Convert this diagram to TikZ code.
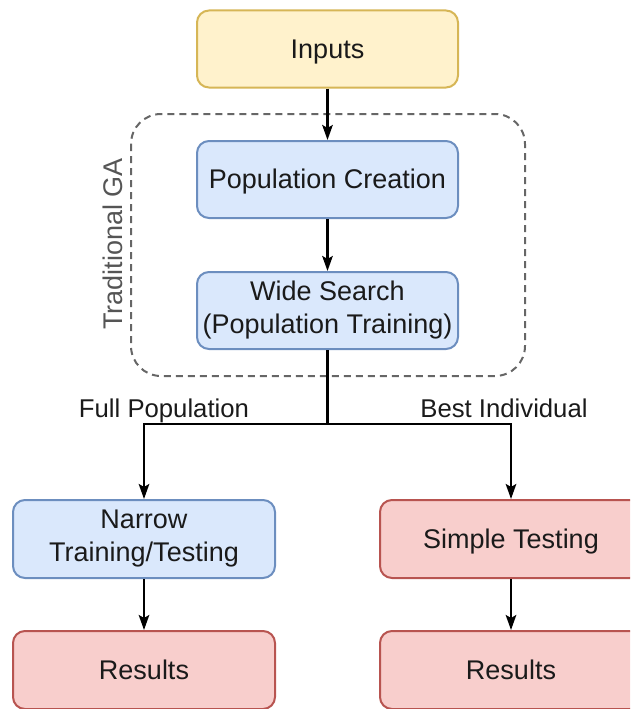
\documentclass[tikz,border=0pt]{standalone}
\usepackage{fontspec}
\setmainfont{Liberation Sans}
\usetikzlibrary{arrows.meta}

\definecolor{yelfill}{HTML}{FFF2CC}
\definecolor{yeldraw}{HTML}{D6B656}
\definecolor{bluefill}{HTML}{DAE8FC}
\definecolor{bluedraw}{HTML}{6C8EBF}
\definecolor{redfill}{HTML}{F8CECC}
\definecolor{reddraw}{HTML}{B85450}
\definecolor{groupgrey}{HTML}{666666}
\definecolor{labelgrey}{HTML}{555555}
\definecolor{inktext}{HTML}{1A1A1A}

% invisible strut giving every line the font's full ascent (0.905em) and descent (0.212em)
\newcommand\linestrut{\rule[-0.212em]{0pt}{1.117em}}

\tikzset{
  box/.style={rectangle, rounded corners=12pt, line width=2pt,
    minimum width=261pt, minimum height=77pt, align=center,
    text=inktext, font=\fontsize{27}{33}\selectfont, inner sep=0pt,
    execute at begin node=\linestrut, execute at end node=\linestrut},
  inbox/.style={box, fill=yelfill, draw=yeldraw},
  bluebox/.style={box, fill=bluefill, draw=bluedraw},
  redbox/.style={box, fill=redfill, draw=reddraw},
  flow/.style={line width=2.3pt, black},
  arr/.style={flow, -{Stealth[length=15pt, width=10.5pt, inset=3pt]}},
  edgelabel/.style={text=inktext, font=\fontsize{25.7}{30}\selectfont, inner sep=0pt,
    execute at begin node=\linestrut},
  grouplabel/.style={text=labelgrey, font=\fontsize{27}{32}\selectfont, inner sep=0pt, rotate=90}
}

\begin{document}
\begin{tikzpicture}[x=1pt, y=1pt]
  \useasboundingbox (0,0) rectangle (630,-709);
  \clip (0,0) rectangle (630,-709);

  % group frame of the traditional genetic algorithm
  \draw[groupgrey, line width=2pt, dash pattern=on 7pt off 5pt, rounded corners=30pt]
    (131,-114) rectangle (525,-376);
  \node[grouplabel] (galabel) at (113,-244) {Traditional GA};

  % process steps
  \node[inbox]   (inputs) at (327.5,-49)    {Inputs};
  \node[bluebox] (pop)    at (327.5,-179.5) {Population Creation};
  \node[bluebox] (wide)   at (327.5,-310.5) {Wide Search\\(Population Training)};
  \node[bluebox, minimum width=262pt, minimum height=78pt] (narrow) at (144,-539) {Narrow\\Training/Testing};
  \node[redbox,  minimum width=262pt, minimum height=78pt] (simple) at (511,-539) {Simple Testing};
  \node[redbox,  minimum width=262pt, minimum height=78pt] (resl)   at (144,-670) {Results};
  \node[redbox,  minimum width=262pt, minimum height=78pt] (resr)   at (511,-670) {Results};

  % split point below the wide search
  \coordinate (split) at (327.5,-424);

  % connectors
  \draw[arr]  (inputs) -- (pop);
  \draw[arr]  (pop) -- (wide);
  \draw[flow] (wide.south) -- (split);
  \draw[arr]  (split) -| (narrow.north);
  \draw[arr]  (split) -| (simple.north);
  \draw[arr]  (narrow) -- (resl);
  \draw[arr]  (simple) -- (resr);

  % branch labels
  \node[edgelabel] (fullpop) at (164,-408.5) {Full Population};
  \node[edgelabel] (bestind) at (504,-408.5) {Best Individual};
\end{tikzpicture}
\end{document}
